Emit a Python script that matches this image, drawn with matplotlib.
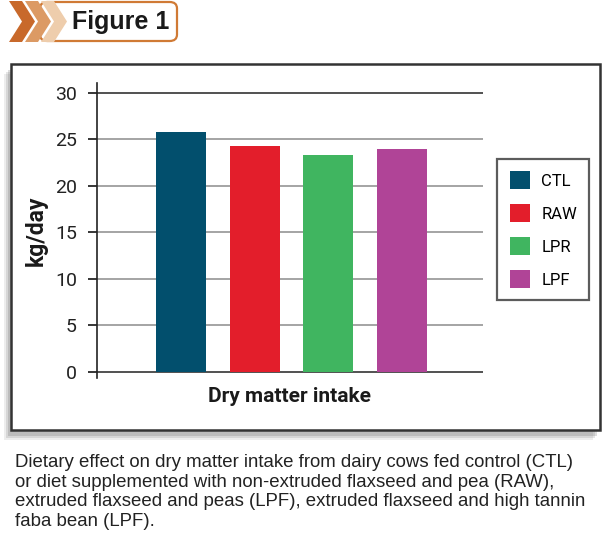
import matplotlib
matplotlib.use('Agg')
import matplotlib.pyplot as plt
import matplotlib.patches as patches

categories = ['CTL', 'RAW', 'LPR', 'LPF']
values = [25.8, 24.3, 23.35, 23.9]
colors = ['#024f6d', '#e31e2b', '#40b560', '#b04497']
yticks = [0, 5, 10, 15, 20, 25, 30]
xlabel = 'Dry matter intake'
ylabel = 'kg/day'
title = 'Figure 1'
caption = ('Dietary effect on dry matter intake from dairy cows fed control (CTL)\n'
           'or diet supplemented with non-extruded flaxseed and pea (RAW),\n'
           'extruded flaxseed and peas (LPF), extruded flaxseed and high tannin\n'
           'faba bean (LPF).')

W, H = 610, 539
NARROW = ['Liberation Sans Narrow', 'Roboto', 'DejaVu Sans']
SANS = ['Liberation Sans', 'DejaVu Sans']

def fx(px):
    return px / W

def fy(py):
    return 1 - py / H

fig = plt.figure(figsize=(W / 100, H / 100), dpi=100)

# header: chevrons + rounded box
box = patches.FancyBboxPatch((fx(40), fy(41)), fx(177) - fx(40), fy(2) - fy(41),
                             boxstyle='round,pad=0,rounding_size=0.012',
                             transform=fig.transFigure, facecolor='white',
                             edgecolor='#d07a35', linewidth=1.6)
fig.add_artist(box)
chev_colors = ['#c8692b', '#dc9a64', '#eecdac']
for k in [2, 1, 0]:
    x0 = 9 + k * 16
    pts = [(x0, 1), (x0 + 13, 1), (x0 + 26, 21.5), (x0 + 13, 42), (x0, 42), (x0 + 13, 21.5)]
    poly = patches.Polygon([(fx(a), fy(b)) for a, b in pts], closed=True,
                           transform=fig.transFigure, facecolor=chev_colors[k], edgecolor='none')
    fig.add_artist(poly)
fig.text(fx(121), fy(22), title, fontsize=18, fontweight='bold', family=SANS,
         ha='center', va='center', color='#1a1a1a')

# shadow + frame (behind the axes)
for off, a in [(7, 0.10), (5, 0.15), (3, 0.2)]:
    sh = patches.Rectangle((fx(11 - off), fy(430 + off + 3)), fx(600) - fx(11),
                           fy(64) - fy(430), transform=fig.transFigure,
                           facecolor='#555555', edgecolor='none', alpha=a, zorder=-3)
    fig.add_artist(sh)
frame = patches.Rectangle((fx(11), fy(430)), fx(600) - fx(11), fy(64) - fy(430),
                          transform=fig.transFigure, facecolor='white',
                          edgecolor='#333333', linewidth=1.8, zorder=-2)
fig.add_artist(frame)

ax = fig.add_axes([fx(97), fy(378.5), fx(483) - fx(97), fy(83.4) - fy(378.5)])
ax.patch.set_alpha(0)
x = list(range(len(categories)))
ax.bar(x, values, width=0.677, color=colors, zorder=3)
ax.set_xlim(-1.133, 4.092)
ax.set_ylim(-0.7, 31)
ax.set_yticks(yticks)
ax.set_yticklabels([str(t) for t in yticks], family=NARROW, fontsize=14, color='#222222')
ax.set_xticks([])
for s in ['top', 'right', 'bottom']:
    ax.spines[s].set_visible(False)
ax.spines['left'].set_color('#222222')
ax.spines['left'].set_linewidth(1.2)
ax.tick_params(axis='y', length=6.5, width=1.1, pad=8)
ax.grid(axis='y', linewidth=1.1)
for t, v in zip(ax.yaxis.get_major_ticks(), yticks):
    c = '#222222' if v in (0, 30) else '#8c8c8c'
    t.tick1line.set_color(c)
    t.gridline.set_color(c)
    t.gridline.set_zorder(1)

ax.set_xlabel(xlabel, family=NARROW, fontsize=15, fontweight='bold', color='#1a1a1a', labelpad=6)
ax.set_ylabel(ylabel, family=NARROW, fontsize=16.5, fontweight='bold', color='#1a1a1a', labelpad=5)

handles = [patches.Patch(facecolor=c, edgecolor='none') for c in colors]
leg = fig.legend(handles, categories, loc='upper left',
                 bbox_to_anchor=(fx(497), fy(159)), bbox_transform=fig.transFigure,
                 prop={'family': NARROW, 'size': 12}, frameon=True, fancybox=False,
                 edgecolor='#333333', handlelength=1.2, handleheight=1.2,
                 handletextpad=0.7, labelspacing=0.95, borderpad=0.75, borderaxespad=0)
leg.get_frame().set_linewidth(1.6)

fig.text(fx(15), fy(454), caption, fontsize=13.4, family=SANS, color='#222222',
         ha='left', va='top', linespacing=1.2)

fig.savefig('out.png', dpi=100)
